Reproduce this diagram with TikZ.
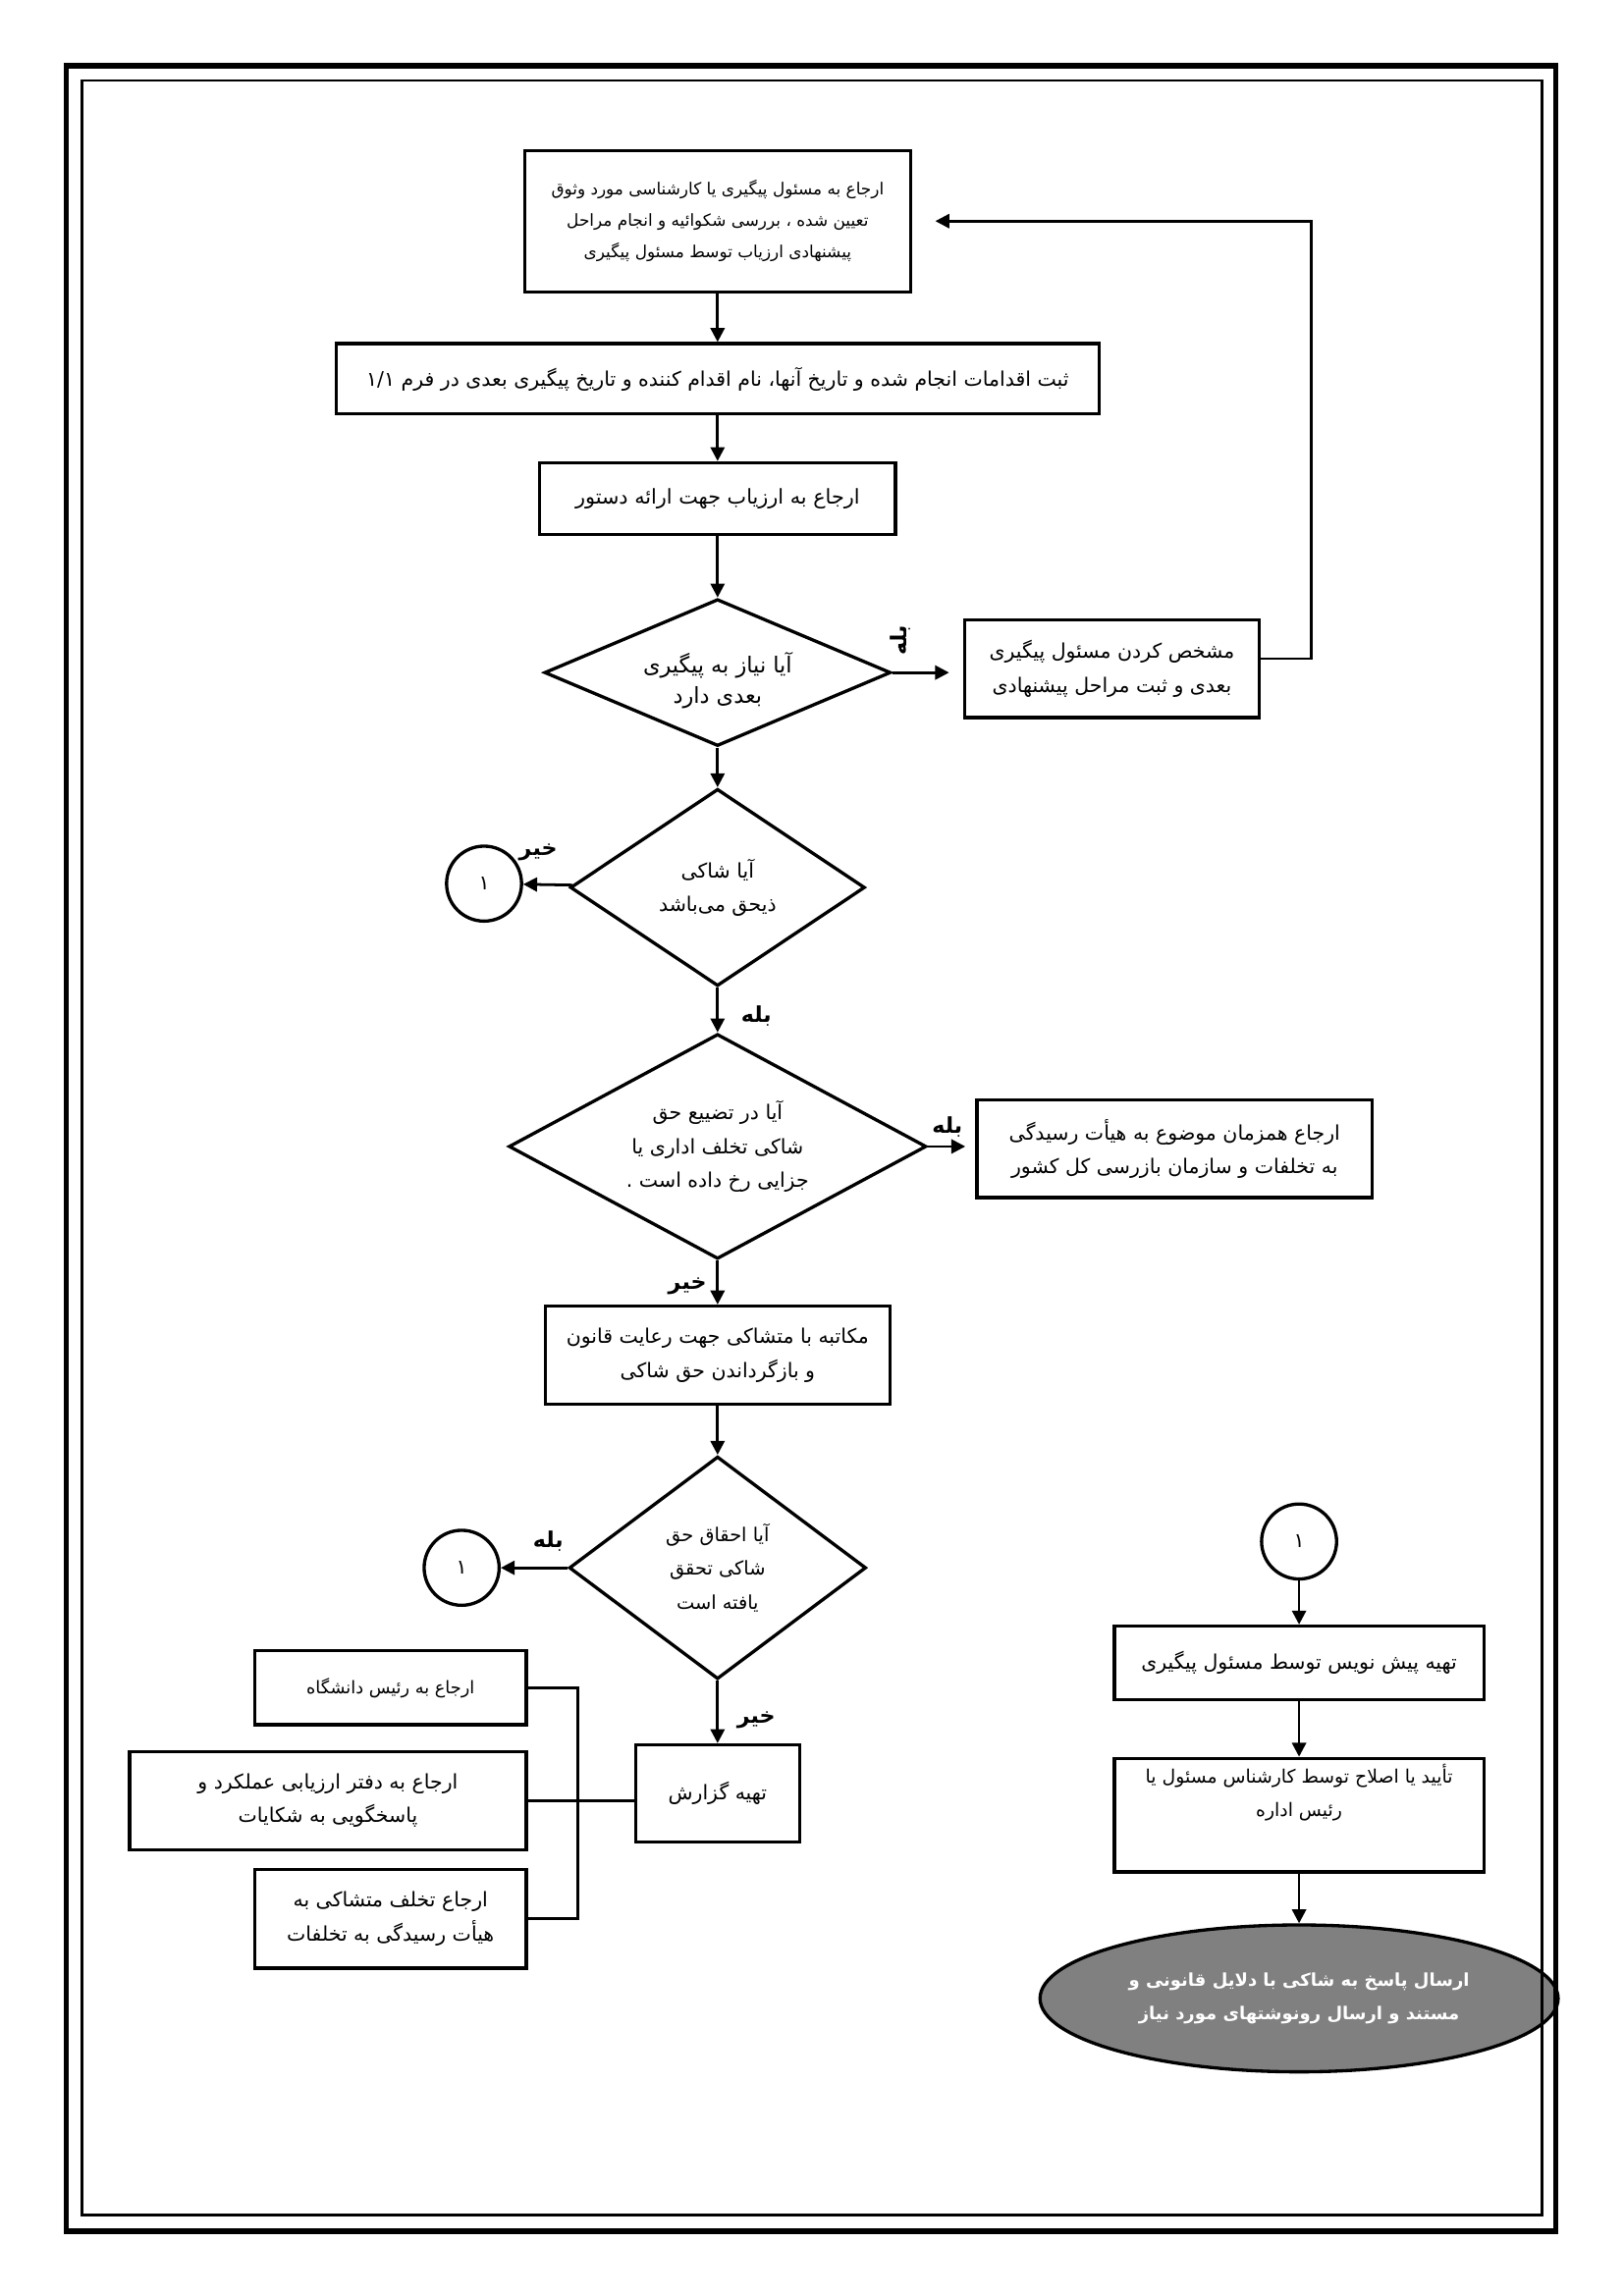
\documentclass[tikz,border=0pt]{standalone}
\usepackage{fontspec}
\newfontfamily\arabicfont[Script=Arabic]{DejaVu Sans}
\TeXXeTstate=1
\usetikzlibrary{shapes.geometric,arrows.meta}
\pgfdeclarelayer{edgelayer}
\pgfdeclarelayer{nodelayer}
\pgfsetlayers{edgelayer,nodelayer,main}
\newcommand{\fa}[1]{\beginR #1\endR}
\tikzset{font=\arabicfont\fontsize{7.4}{12.4}\selectfont}
\tikzstyle{box}=[rectangle,draw,line width=1.2pt,inner sep=2pt,align=center]
\tikzstyle{decision}=[diamond,draw,line width=1.2pt,inner sep=0pt]
\tikzstyle{joint}=[circle,draw,line width=1.2pt,minimum size=0.97cm,inner sep=0pt]
\tikzstyle{terminal}=[ellipse,draw,line width=1.2pt,fill=black!50,inner sep=0pt]
\tikzstyle{inside}=[align=center,inner sep=0pt]
\tikzstyle{heavy}=[text=white,font=\arabicfont\bfseries\fontsize{6.5}{12.4}\selectfont]
\tikzstyle{tag}=[inner sep=0pt,font=\arabicfont\bfseries\fontsize{8}{10}\selectfont]
\tikzstyle{small}=[font=\arabicfont\fontsize{6.1}{11.5}\selectfont]
\tikzstyle{flow}=[line width=1pt,-{Triangle[length=1.8mm,width=1.8mm]}]
\tikzstyle{plain}=[line width=1pt]

\begin{document}
\begin{tikzpicture}
	\useasboundingbox (0,0) rectangle (21,-29.7);
	% page frame
	\draw[line width=2pt] (0.86,-0.85) rectangle (20.12,-28.86);
	\draw[line width=1pt] (1.06,-1.04) rectangle (19.94,-28.65);
	\begin{pgfonlayer}{nodelayer}
		\node [style=box, style=small, minimum width=4.99cm, minimum height=1.83cm] (0) at (9.28, -2.86) {\fa{ارجاع به مسئول پیگیری یا کارشناسی مورد وثوق}\\\fa{تعیین شده ، بررسی شکوائیه و انجام مراحل}\\\fa{پیشنهادی ارزیاب توسط مسئول پیگیری}};
		\node [style=box, minimum width=9.87cm, minimum height=0.91cm] (1) at (9.28, -4.9) {\fa{ثبت اقدامات انجام شده و تاریخ آنها، نام اقدام کننده و تاریخ پیگیری بعدی در فرم ۱/۱}};
		\node [style=box, font=\arabicfont\fontsize{7.5}{12.4}\selectfont, minimum width=4.6cm, minimum height=0.93cm] (2) at (9.28, -6.45) {\fa{ارجاع به ارزیاب جهت ارائه دستور}};
		\node [style=decision, minimum width=4.48cm, minimum height=1.9cm, label={[inside, yshift=-0.1cm, font=\arabicfont\fontsize{8.1}{11}\selectfont]center:{\beginR آیا نیاز به پیگیری\endR\\\beginR بعدی دارد\endR}}] (3) at (9.28, -8.7) {};
		\node [style=box, minimum width=3.81cm, minimum height=1.26cm] (4) at (14.38, -8.65) {\fa{مشخص کردن مسئول پیگیری}\\\fa{بعدی و ثبت مراحل پیشنهادی}};
		\node [style=decision, minimum width=3.81cm, minimum height=2.55cm, label={[inside]center:{\beginR آیا شاکی\endR\\\beginR ذیحق می‌باشد\endR}}] (5) at (9.28, -11.48) {};
		\node [style=joint] (6) at (6.26, -11.43) {۱};
		\node [style=decision, minimum width=5.4cm, minimum height=2.91cm, label={[inside]center:{\beginR آیا در تضییع حق\endR\\\beginR شاکی تخلف اداری یا\endR\\\beginR جزایی رخ داده است .\endR}}] (7) at (9.28, -14.83) {};
		\node [style=box, minimum width=5.11cm, minimum height=1.26cm] (8) at (15.19, -14.86) {\fa{ارجاع همزمان موضوع به هیأت رسیدگی}\\\fa{به تخلفات و سازمان بازرسی کل کشور}};
		\node [style=box, minimum width=4.46cm, minimum height=1.27cm] (9) at (9.28, -17.53) {\fa{مکاتبه با متشاکی جهت رعایت قانون}\\\fa{و بازگرداندن حق شاکی}};
		\node [style=decision, minimum width=3.84cm, minimum height=2.88cm, label={[inside, font=\arabicfont\fontsize{7}{12.4}\selectfont]center:{\beginR آیا احقاق حق\endR\\\beginR شاکی تحقق\endR\\\beginR یافته است\endR}}] (10) at (9.28, -20.28) {};
		\node [style=joint] (11) at (5.97, -20.28) {۱};
		\node [style=box, minimum width=2.12cm, minimum height=1.26cm] (12) at (9.28, -23.2) {\fa{تهیه گزارش}};
		\node [style=box, font=\arabicfont\fontsize{6.4}{12}\selectfont, minimum width=3.51cm, minimum height=0.96cm] (13) at (5.05, -21.83) {\fa{ارجاع به رئیس دانشگاه}};
		\node [style=box, minimum width=5.13cm, minimum height=1.27cm] (14) at (4.24, -23.29) {\fa{ارجاع به دفتر ارزیابی عملکرد و}\\\fa{پاسخگویی به شکایات}};
		\node [style=box, minimum width=3.51cm, minimum height=1.28cm] (15) at (5.05, -24.82) {\fa{ارجاع تخلف متشاکی به}\\\fa{هیأت رسیدگی به تخلفات}};
		\node [style=joint] (16) at (16.8, -19.94) {۱};
		\node [style=box, minimum width=4.78cm, minimum height=0.95cm] (17) at (16.8, -21.51) {\fa{تهیه پیش نویس توسط مسئول پیگیری}};
		\node [style=box, font=\arabicfont\fontsize{6.8}{12.4}\selectfont, minimum width=4.78cm, minimum height=1.47cm] (18) at (16.8, -23.48) {\fa{تأیید یا اصلاح توسط کارشناس مسئول یا}\\\fa{رئیس اداره}\\[0.2cm]};
		\node [style=terminal, minimum width=6.7cm, minimum height=1.9cm, label={[inside, style=heavy]center:{\beginR ارسال پاسخ به شاکی با دلایل قانونی و\endR\\\beginR مستند و ارسال رونوشتهای مورد نیاز\endR}}] (19) at (16.8, -25.85) {};
		\node [style=tag, rotate=90] (20) at (11.65, -8.28) {\fa{بله}};
		\node [style=tag] (21) at (6.96, -11.02) {\fa{خیر}};
		\node [style=tag] (22) at (9.78, -13.14) {\fa{بله}};
		\node [style=tag] (23) at (12.25, -14.58) {\fa{بله}};
		\node [style=tag] (24) at (8.89, -16.64) {\fa{خیر}};
		\node [style=tag] (25) at (7.09, -19.94) {\fa{بله}};
		\node [style=tag] (26) at (9.78, -22.25) {\fa{خیر}};
		\coordinate (27) at (7.47, -21.83);
		\coordinate (28) at (7.47, -24.82);
		\coordinate (29) at (16.96, -2.86);
	\end{pgfonlayer}
	\begin{pgfonlayer}{edgelayer}
		\draw [style=flow] (0) to (1);
		\draw [style=flow] (1) to (2);
		\draw [style=flow] (2) to (3);
		\draw [style=flow, shorten >=0.18cm] (3.east) to (3.east -| 4.west);
		\draw [style=flow, shorten >=0.3cm] ([yshift=0.13cm]4.east) -| (29) to (0.east);
		\draw [style=flow] (3) to (5);
		\draw [style=flow] (5) to (6);
		\draw [style=flow] (5) to (7);
		\draw [style=flow, shorten >=0.13cm] (7.east) to (7.east -| 8.west);
		\draw [style=flow] (7) to (9);
		\draw [style=flow] (9) to (10);
		\draw [style=flow] (10) to (11);
		\draw [style=flow] (10) to (12);
		\draw [style=plain] (13.east) to (27) to (28) to (15.east);
		\draw [style=plain] (14.east) to (14.east -| 12.west);
		\draw [style=flow] (16) to (17);
		\draw [style=flow] (17) to (18);
		\draw [style=flow] (18) to (19);
	\end{pgfonlayer}
\end{tikzpicture}
\end{document}
